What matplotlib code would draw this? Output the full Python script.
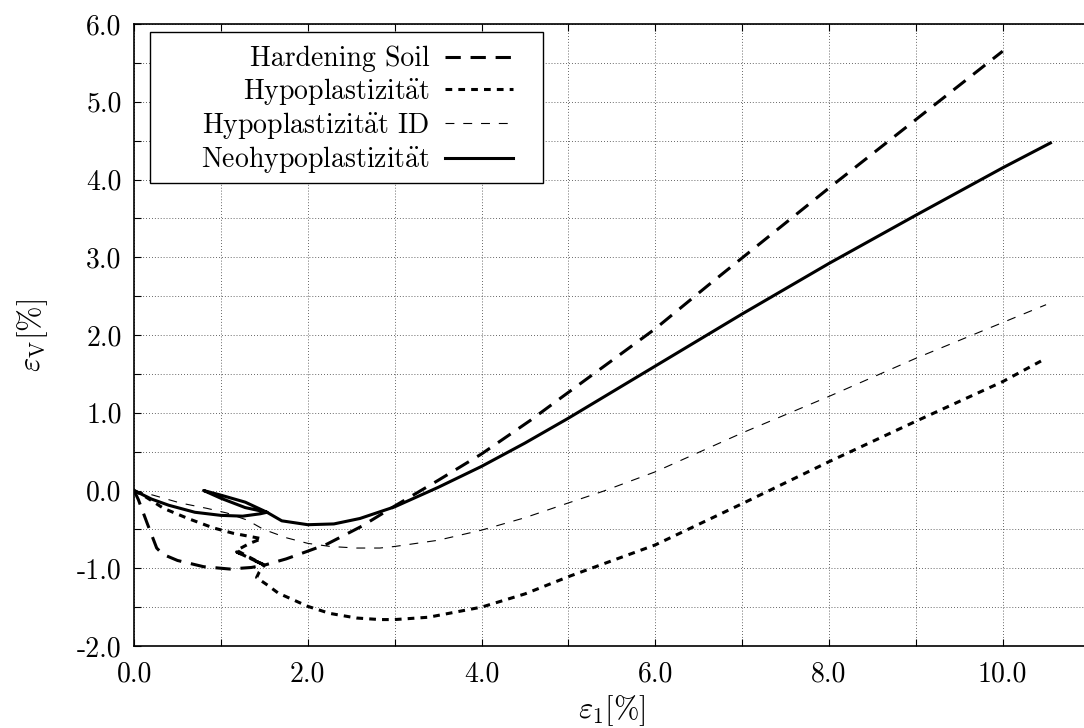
import matplotlib
matplotlib.use('Agg')
import matplotlib.pyplot as plt
from matplotlib.patches import Rectangle
import numpy as np

plt.rcParams['font.family'] = 'serif'
plt.rcParams['font.serif'] = ['cmr10']
plt.rcParams['mathtext.fontset'] = 'cm'
plt.rcParams['axes.unicode_minus'] = False

# Hardening Soil (incl. unloading / reloading loop)
hs_x = [0.0, 0.05, 0.15, 0.26, 0.33, 0.5, 0.8, 1.1, 1.35, 1.5,
        1.18, 1.5,
        1.75, 2.0, 2.22, 2.62, 3.0, 3.5, 4.0, 4.56, 4.9, 6.0, 6.61, 8.0, 10.0]
hs_y = [0.0, -0.12, -0.42, -0.74, -0.82, -0.9, -0.98, -1.01, -0.99, -0.96,
        -0.79, -0.96,
        -0.88, -0.78, -0.69, -0.46, -0.2, 0.13, 0.47, 0.9, 1.18, 2.08, 2.64, 3.89, 5.65]

# Hypoplastizitaet
hp_x = [0.0, 0.13, 0.34, 0.62, 0.91, 1.14, 1.47,
        1.33, 1.18, 1.5,
        1.44, 1.41, 1.54, 1.66, 2.0, 2.25, 2.56, 2.83, 3.0, 3.39, 4.0, 4.5,
        5.02, 6.0, 7.0, 8.0, 9.0, 10.0, 10.5]
hp_y = [0.0, -0.08, -0.23, -0.36, -0.48, -0.55, -0.62,
        -0.68, -0.77, -0.96,
        -1.05, -1.12, -1.22, -1.32, -1.49, -1.58, -1.64, -1.66, -1.66, -1.63,
        -1.5, -1.33, -1.1, -0.7, -0.17, 0.37, 0.89, 1.4, 1.7]

# Hypoplastizitaet ID
id_x = [0.0, 0.22, 0.53, 0.84, 1.07, 1.3, 1.49, 1.76, 2.0, 2.26, 2.56,
        2.83, 3.0, 3.5, 4.0, 4.5, 5.0, 5.4, 6.0, 7.0, 8.0, 9.0, 10.0, 10.5]
id_y = [0.0, -0.06, -0.16, -0.23, -0.29, -0.38, -0.5, -0.61, -0.68, -0.72,
        -0.74, -0.74, -0.72, -0.64, -0.51, -0.35, -0.16, -0.01, 0.24, 0.74, 1.21,
        1.7, 2.16, 2.39]

# Neohypoplastizitaet
nh_x = [0.0, 0.2, 0.4, 0.7, 1.0, 1.25, 1.45, 1.53,
        1.28, 1.0, 0.8,
        1.0, 1.28, 1.53,
        1.7, 2.0, 2.3, 2.6, 3.0, 3.5, 4.0, 4.5, 5.0, 6.0, 7.0, 8.0, 9.0,
        10.0, 10.55]
nh_y = [0.0, -0.11, -0.19, -0.28, -0.32, -0.33, -0.3, -0.28,
        -0.15, -0.06, 0.0,
        -0.1, -0.22, -0.28,
        -0.39, -0.44, -0.43, -0.36, -0.21, 0.04, 0.31, 0.61, 0.93, 1.6,
        2.27, 2.92, 3.54, 4.15, 4.47]

labels = ['Hardening Soil', r'Hypoplastizit$\ddot{\mathrm{a}}$t',
          r'Hypoplastizit$\ddot{\mathrm{a}}$t ID',
          r'Neohypoplastizit$\ddot{\mathrm{a}}$t']

x_ticks = [0, 2, 4, 6, 8, 10]
y_ticks = [-2, -1, 0, 1, 2, 3, 4, 5, 6]

W, H = 1084, 728
fig = plt.figure(figsize=(W / 100, H / 100), dpi=100)
ax = fig.add_axes([134.1 / W, 1 - 646 / H, (1089.5 - 134.1) / W, (646 - 24) / H])

ax.plot(hs_x, hs_y, color='black', lw=2.2, dashes=(5.0, 3.2), label=labels[0])
ax.plot(hp_x, hp_y, color='black', lw=2.2, dashes=(2.2, 2.0), label=labels[1])
ax.plot(id_x, id_y, color='black', lw=0.8, dashes=(8, 8), label=labels[2])
ax.plot(nh_x, nh_y, color='black', lw=2.2, label=labels[3])

ax.set_xlim(0, 11)
ax.set_ylim(-2, 6)
ax.set_xticks(x_ticks)
ax.set_xticklabels(['%.1f' % v for v in x_ticks])
ax.set_xticks(np.arange(1, 11, 2), minor=True)
ax.set_yticks(y_ticks)
ax.set_yticklabels(['%.1f' % v for v in y_ticks])
ax.set_yticks(np.arange(-1.5, 6, 1.0), minor=True)
ax.tick_params(which='both', direction='in', top=True, right=False,
               length=5, width=0.8, labelsize=20)
ax.tick_params(axis='x', pad=11)
ax.tick_params(axis='y', pad=9)
ax.grid(True, which='both', color='black', lw=0.6, ls=(0, (1, 2.5)), alpha=0.8)
for s in ax.spines.values():
    s.set_linewidth(1.2)

ax.set_xlabel(r'$\varepsilon_1[\%]$', fontsize=22, labelpad=4)
ax.set_ylabel(r'$\varepsilon_\mathrm{V}[\%]$', fontsize=22, labelpad=19)

# legend box (wide, gnuplot style) drawn separately, entries right aligned
box = Rectangle((150 / W, 1 - 183 / H), 393 / W, 151 / H, transform=fig.transFigure,
                facecolor='white', edgecolor='black', lw=1.0, zorder=4.5, clip_on=False)
ax.add_patch(box)
leg = ax.legend(loc='upper right', bbox_to_anchor=(527 / W, 1 - 32 / H),
                bbox_transform=fig.transFigure, markerfirst=False, fontsize=20,
                handlelength=2.45, handletextpad=0.55, borderpad=0.0,
                labelspacing=0.12, frameon=False)

fig.savefig('out.png', dpi=100)
